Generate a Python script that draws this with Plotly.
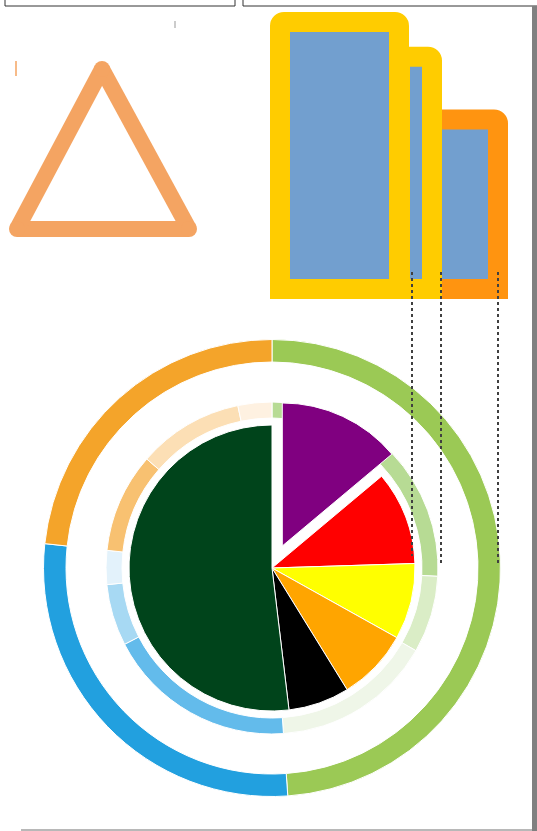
import plotly.graph_objects as go

W, H = 537, 831

# ---------------- data ----------------
bar_labels = ["A", "B", "C"]
bar_values = [100, 87, 63.5]

pie_labels = ["Purple", "Red", "Yellow", "Orange", "Black", "Dark green"]
pie_values = [13.9, 10.6, 8.6, 8.1, 6.9, 51.9]

outer_labels = ["Green", "Blue", "Orange"]
outer_values = [48.9, 27.8, 23.3]

inner_labels = ["Green 1", "Green 2", "Green 3",
                "Blue 1", "Blue 2", "Blue 3",
                "Orange 1", "Orange 2", "Orange 3"]
inner_values = [25.8, 7.5, 15.6, 18.5, 6.0, 3.3, 9.7, 10.3, 3.3]

# ---------------- styles / layout constants ----------------
pie_colors = ["#800080", "#FF0000", "#FFFF00", "#FFA500", "#000000", "#00441B"]
outer_colors = ["#9BC955", "#22A0DF", "#F4A42A"]
inner_colors = ["#B7DB94", "#DAEDC6", "#EFF6E8",
                "#63BBEB", "#A7D9F3", "#E3F2FB",
                "#F8C171", "#FCDFB5", "#FEF1E1"]
pie_pull = [0.17, 0, 0, 0, 0, 0]

CX, CY = 272, 568          # pie centre (px)
R_PIE = 143
R_IN_OUT, R_IN_IN = 166, 150
R_OUT_OUT, R_OUT_IN = 228.5, 206

bar_fill = "#729FCF"
bar_line_colors = ["#FFCC00", "#FFCC00", "#FF9410"]
bar_left_px = [280, 400, 430]
bar_width_px = [119, 32, 68]
bar_draw_order = [0, 2, 1]
BASE_PX, TOP_PX = 289, 22   # pixel rows of value 0 and value 100
CAT0_PX, CAT_STEP = 339.5, 76.5


def px(x):
    return x / W


def py(y):
    return 1 - y / H


def pie_domain(cx, cy, half):
    return dict(x=[px(cx - half), px(cx + half)], y=[py(cy + half), py(cy - half)])


fig = go.Figure()

# ---------------- bars ----------------
for i in bar_draw_order:
    fig.add_trace(go.Bar(
        x=[bar_labels[i]], y=[bar_values[i]],
        width=[bar_width_px[i] / CAT_STEP],
        offset=[(bar_left_px[i] - (CAT0_PX + i * CAT_STEP)) / CAT_STEP],
        marker=dict(color=bar_fill, cornerradius=4,
                    line=dict(color=bar_line_colors[i], width=20)),
        hoverinfo="skip", showlegend=False,
    ))

# ---------------- rings and pie ----------------
fig.add_trace(go.Pie(
    labels=outer_labels, values=outer_values, sort=False, direction="clockwise",
    rotation=0, hole=R_OUT_IN / R_OUT_OUT, textinfo="none", hoverinfo="skip",
    marker=dict(colors=outer_colors, line=dict(color="white", width=1)),
    domain=pie_domain(CX, CY, R_OUT_OUT), showlegend=False,
))
fig.add_trace(go.Pie(
    labels=inner_labels, values=inner_values, sort=False, direction="clockwise",
    rotation=0, hole=R_IN_IN / R_IN_OUT, textinfo="none", hoverinfo="skip",
    marker=dict(colors=inner_colors, line=dict(color="white", width=1)),
    domain=pie_domain(CX, CY, R_IN_OUT), showlegend=False,
))
fig.add_trace(go.Pie(
    labels=pie_labels, values=pie_values, sort=False, direction="clockwise",
    rotation=0, pull=pie_pull, textinfo="none", hoverinfo="skip",
    marker=dict(colors=pie_colors, line=dict(color="white", width=1)),
    domain=pie_domain(CX, CY, R_PIE * (1 + max(pie_pull))), showlegend=False,
))

# ---------------- axes ----------------
unit = (BASE_PX - TOP_PX) / 100.0
ymax = 100 + TOP_PX / unit
ymin = ymax - H / unit
fig.update_xaxes(type="category", categoryorder="array", categoryarray=bar_labels,
                 range=[-CAT0_PX / CAT_STEP, (W - CAT0_PX) / CAT_STEP],
                 visible=False, domain=[0, 1], fixedrange=True)
fig.update_yaxes(range=[ymin, ymax], visible=False, domain=[0, 1], fixedrange=True)

# ---------------- decorative shapes ----------------
shapes = []
# top boxes
shapes.append(dict(type="rect", xref="paper", yref="paper",
                   x0=px(5), x1=px(235), y0=py(6), y1=py(-20),
                   line=dict(color="#333333", width=1), fillcolor="white"))
shapes.append(dict(type="rect", xref="paper", yref="paper",
                   x0=px(243), x1=px(560), y0=py(6), y1=py(-20),
                   line=dict(color="#333333", width=1), fillcolor="white"))
# right gray bar
shapes.append(dict(type="rect", xref="paper", yref="paper",
                   x0=px(532), x1=px(540), y0=py(840), y1=py(6),
                   line=dict(width=0), fillcolor="#808080"))
# bottom line
shapes.append(dict(type="line", xref="paper", yref="paper",
                   x0=px(21), x1=px(532), y0=py(830), y1=py(830),
                   line=dict(color="#A0A0A0", width=1.5)))
# tiny ticks
shapes.append(dict(type="line", xref="paper", yref="paper",
                   x0=px(16), x1=px(16), y0=py(61), y1=py(76),
                   line=dict(color="#F4A462", width=1.5)))
shapes.append(dict(type="line", xref="paper", yref="paper",
                   x0=px(175), x1=px(175), y0=py(21), y1=py(28),
                   line=dict(color="#999999", width=1)))
# triangle (round joins via circles at vertices)
tri = [(102, 69), (189, 229), (17, 229)]
TRI_W = 16
TRI_C = "#F4A462"
for k in range(3):
    (xa, ya), (xb, yb) = tri[k], tri[(k + 1) % 3]
    shapes.append(dict(type="line", xref="paper", yref="paper",
                       x0=px(xa), y0=py(ya), x1=px(xb), y1=py(yb),
                       line=dict(color=TRI_C, width=TRI_W)))
for (xv, yv) in tri:
    r = TRI_W / 2
    shapes.append(dict(type="circle", xref="paper", yref="paper",
                       x0=px(xv - r), x1=px(xv + r), y0=py(yv + r), y1=py(yv - r),
                       line=dict(width=0), fillcolor=TRI_C))
# dotted drop lines
for xd, y_end in [(412, 556), (441, 565), (498, 565)]:
    shapes.append(dict(type="line", xref="paper", yref="paper", layer="above",
                       x0=px(xd), x1=px(xd), y0=py(272), y1=py(y_end),
                       line=dict(color="#404040", width=2, dash="dot")))

fig.update_layout(
    width=W, height=H, margin=dict(l=0, r=0, t=0, b=0),
    paper_bgcolor="white", plot_bgcolor="rgba(0,0,0,0)",
    barmode="overlay", showlegend=False, shapes=shapes,
)

fig.write_html("out.html", config={"displayModeBar": False},
               post_script="document.body.style.margin='0';document.body.style.overflow='hidden';")
